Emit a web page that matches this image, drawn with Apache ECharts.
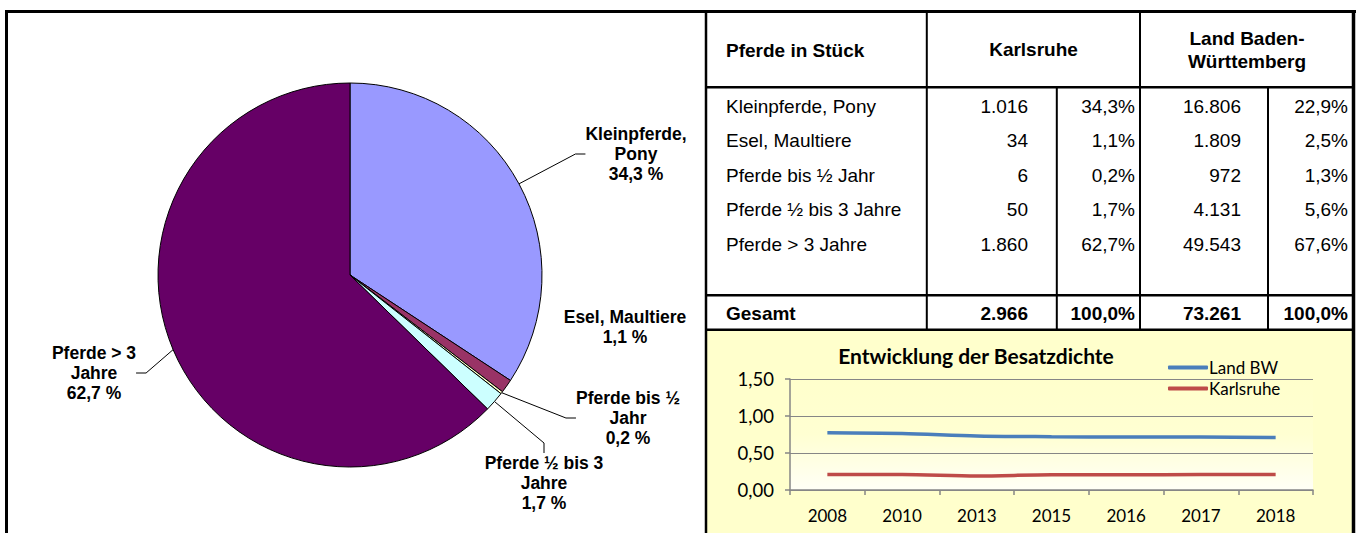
<!DOCTYPE html>
<html>
<head>
<meta charset="utf-8">
<script src="https://cdn.jsdelivr.net/npm/echarts@6/dist/echarts.min.js"></script>
<style>
html,body{margin:0;padding:0;background:#fff;}
#chart{width:1361px;height:533px;}
</style>
</head>
<body>
<div id="chart"></div>
<script>
// ---- data ----
const categories = ['Kleinpferde, Pony', 'Esel, Maultiere', 'Pferde bis ½ Jahr', 'Pferde ½ bis 3 Jahre', 'Pferde > 3 Jahre'];
const pieLabels = ['Kleinpferde,\nPony', 'Esel, Maultiere', 'Pferde bis ½\nJahr', 'Pferde ½ bis 3\nJahre', 'Pferde > 3\nJahre'];
const karlsruheCount = [1016, 34, 6, 50, 1860];
const karlsruhePct = ['34,3%', '1,1%', '0,2%', '1,7%', '62,7%'];
const landCount = [16806, 1809, 972, 4131, 49543];
const landPct = ['22,9%', '2,5%', '1,3%', '5,6%', '67,6%'];
const totalLabel = 'Gesamt';
const totalCounts = [2966, 73261];
const totalPcts = ['100,0%', '100,0%'];
const headers = ['Pferde in Stück', 'Karlsruhe', 'Land Baden-\nWürttemberg'];
const years = ['2008', '2010', '2013', '2015', '2016', '2017', '2018'];
const landBW = [0.775, 0.765, 0.73, 0.72, 0.715, 0.715, 0.71];
const karlsruheDensity = [0.21, 0.21, 0.19, 0.205, 0.205, 0.21, 0.21];
const seriesNames = ['Land BW', 'Karlsruhe'];
const lineTitle = 'Entwicklung der Besatzdichte';
const yTicks = [0, 0.5, 1.0, 1.5];

// ---- styling / layout ----
const pieColors = ['#9999FF', '#993366', '#FFFFCC', '#CCFFFF', '#660066'];
const labelPos = [[636, 154], [625, 327], [628, 418], [544, 483], [94, 373]];
const ARIAL = "'Liberation Sans', Arial, sans-serif";
const CAL = "Lato, 'Open Sans', sans-serif";

function fmtNum(n) { return String(n).replace(/\B(?=(\d{3})+(?!\d))/g, '.'); }

const colX = { labelL: 726, kCountR: 1028, kPctR: 1135, lCountR: 1241, lPctR: 1348 };
const rowY0 = 106, rowStep = 34.6;

const graphics = [];
// yellow background of line-chart panel
graphics.push({ type: 'rect', z: -5, shape: { x: 707, y: 331, width: 646, height: 202 }, style: { fill: '#FFFFCC' } });

function line(x1, y1, x2, y2, w) {
  graphics.push({ type: 'line', z: 50, shape: { x1, y1, x2, y2 }, style: { stroke: '#000', lineWidth: w } });
}
// frame
line(6.5, 10, 6.5, 533, 3);
line(5, 11.5, 1356, 11.5, 3);
line(706, 11, 706, 533, 2.5);
line(1353.5, 10, 1353.5, 533, 3.5);
// table grid
line(706, 87.3, 1354, 87.3, 2.5);
line(706, 295.3, 1354, 295.3, 2.5);
line(706, 329.7, 1354, 329.7, 2.5);
line(926.8, 11, 926.8, 330, 2);
line(1140, 11, 1140, 330, 2);
line(1056.8, 87, 1056.8, 330, 2);
line(1268, 87, 1268, 330, 2);

function txt(text, x, y, align, bold) {
  graphics.push({
    type: 'text', z: 60, x, y,
    style: {
      text, fill: '#000', font: (bold ? 'bold ' : '') + '19px ' + ARIAL,
      align, verticalAlign: 'middle', textAlign: align, textVerticalAlign: 'middle', lineHeight: 23
    }
  });
}
// header
txt(headers[0], colX.labelL, 50, 'left', true);
txt(headers[1], 1033.5, 49.5, 'center', true);
txt(headers[2], 1247, 49.5, 'center', true);
// rows
categories.forEach((c, i) => {
  const y = rowY0 + i * rowStep;
  txt(c, colX.labelL, y, 'left', false);
  txt(fmtNum(karlsruheCount[i]), colX.kCountR, y, 'right', false);
  txt(karlsruhePct[i], colX.kPctR, y, 'right', false);
  txt(fmtNum(landCount[i]), colX.lCountR, y, 'right', false);
  txt(landPct[i], colX.lPctR, y, 'right', false);
});
// total row
txt(totalLabel, colX.labelL, 313.5, 'left', true);
txt(fmtNum(totalCounts[0]), colX.kCountR, 313.5, 'right', true);
txt(totalPcts[0], colX.kPctR, 313.5, 'right', true);
txt(fmtNum(totalCounts[1]), colX.lCountR, 313.5, 'right', true);
txt(totalPcts[1], colX.lPctR, 313.5, 'right', true);
// line chart title
graphics.push({
  type: 'text', z: 60, x: 976, y: 355,
  style: { text: lineTitle, fill: '#000', font: 'bold 21px ' + CAL, align: 'center', verticalAlign: 'middle', textAlign: 'center', textVerticalAlign: 'middle' }
});

const chart = echarts.init(document.getElementById('chart'), null, { renderer: 'svg', width: 1361, height: 533 });

const option = {
  animation: false,
  backgroundColor: '#ffffff',
  graphic: graphics,
  legend: {
    data: seriesNames,
    orient: 'vertical',
    left: 1163, top: 354,
    icon: 'roundRect',
    itemWidth: 40, itemHeight: 4, itemGap: 4,
    textStyle: { fontFamily: CAL, fontSize: 17, color: '#000', padding: [0, 0, 0, -4] }
  },
  grid: {
    left: 790, top: 379, width: 523, height: 111,
    show: true, borderWidth: 0,
    backgroundColor: {
      type: 'linear', x: 0, y: 0, x2: 0, y2: 1,
      colorStops: [{ offset: 0, color: '#FFFFCC' }, { offset: 0.5, color: '#FFFFD2' }, { offset: 1, color: '#FFFFF6' }]
    }
  },
  xAxis: {
    type: 'category', data: years, boundaryGap: true,
    axisLine: { lineStyle: { color: '#868686', width: 1.5 } },
    axisTick: { show: true, length: 5, lineStyle: { color: '#868686', width: 1.5 } },
    axisLabel: { fontFamily: CAL, fontSize: 17, color: '#000', margin: 17 }
  },
  yAxis: {
    type: 'value', min: yTicks[0], max: yTicks[yTicks.length - 1], interval: 0.5,
    axisLine: { show: true, lineStyle: { color: '#868686', width: 1.5 } },
    axisTick: { show: true, length: 5, lineStyle: { color: '#868686', width: 1.5 } },
    splitLine: { lineStyle: { color: '#868686', width: 1 } },
    axisLabel: { fontFamily: CAL, fontSize: 18.5, color: '#000', margin: 16, formatter: v => v.toFixed(2).replace('.', ',') }
  },
  series: [
    {
      type: 'pie',
      center: [350, 275], radius: 192,
      startAngle: 90, clockwise: true,
      avoidLabelOverlap: false,
      percentPrecision: 1,
      itemStyle: { borderColor: '#000', borderWidth: 1 },
      label: {
        show: true, position: 'outside', alignTo: 'none',
        fontFamily: ARIAL, fontWeight: 'bold', fontSize: 17.5, lineHeight: 20, color: '#000',
        formatter: p => pieLabels[p.dataIndex] + '\n' + p.percent.toFixed(1).replace('.', ',') + ' %'
      },
      labelLine: { show: true, length: 10, length2: 10, lineStyle: { color: '#000', width: 1 } },
      labelLayout: p => ({ x: labelPos[p.dataIndex][0], y: labelPos[p.dataIndex][1], align: 'center', verticalAlign: 'middle' }),
      emphasis: { disabled: true },
      data: karlsruheCount.map((v, i) => ({
        value: v, name: categories[i],
        itemStyle: { color: pieColors[i] },
        labelLine: { show: i !== 1 }
      }))
    },
    {
      type: 'line', name: seriesNames[0], data: landBW, smooth: 0.3, symbol: 'none',
      lineStyle: { color: '#4A7EBB', width: 3.5 }, itemStyle: { color: '#4A7EBB' }
    },
    {
      type: 'line', name: seriesNames[1], data: karlsruheDensity, smooth: 0.3, symbol: 'none',
      lineStyle: { color: '#BE4B48', width: 3.5 }, itemStyle: { color: '#BE4B48' }
    }
  ]
};
chart.setOption(option);
</script>
</body>
</html>
